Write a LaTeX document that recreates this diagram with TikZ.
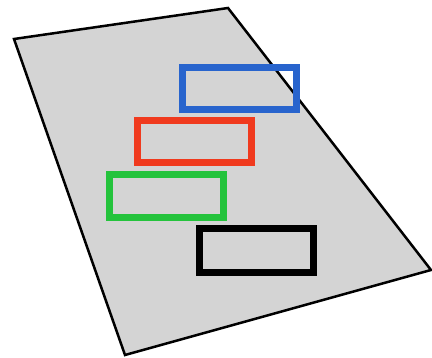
\documentclass[tikz,border=0pt]{standalone}
\usepackage{tikz}
\usepackage{xcolor}

\definecolor{sheetgray}{RGB}{212,212,212}
\definecolor{frameblue}{RGB}{40,100,205}
\definecolor{framered}{RGB}{240,58,30}
\definecolor{framegreen}{RGB}{36,195,60}

\begin{document}
\begin{tikzpicture}[
    x=1pt, y=-1pt,
    frame/.style={draw, line width=7pt, minimum width=114pt, minimum height=42pt, inner sep=0pt}
  ]
    \useasboundingbox (0,0) rectangle (432,358);
    % sheet
    \draw[fill=sheetgray, line width=2.5pt, line join=miter] (14,39) -- (228,8) -- (431,270) -- (125,355) -- cycle;
    % frames
    \node[frame, draw=frameblue] (blue) at (239,88.5) {};
    \node[frame, draw=framered] (red) at (194.5,142) {};
    \node[frame, draw=framegreen, minimum height=43pt] (green) at (166.5,196.5) {};
    \node[frame, draw=black, minimum height=44pt] (black) at (256,251) {};
  \end{tikzpicture}
\end{document}
